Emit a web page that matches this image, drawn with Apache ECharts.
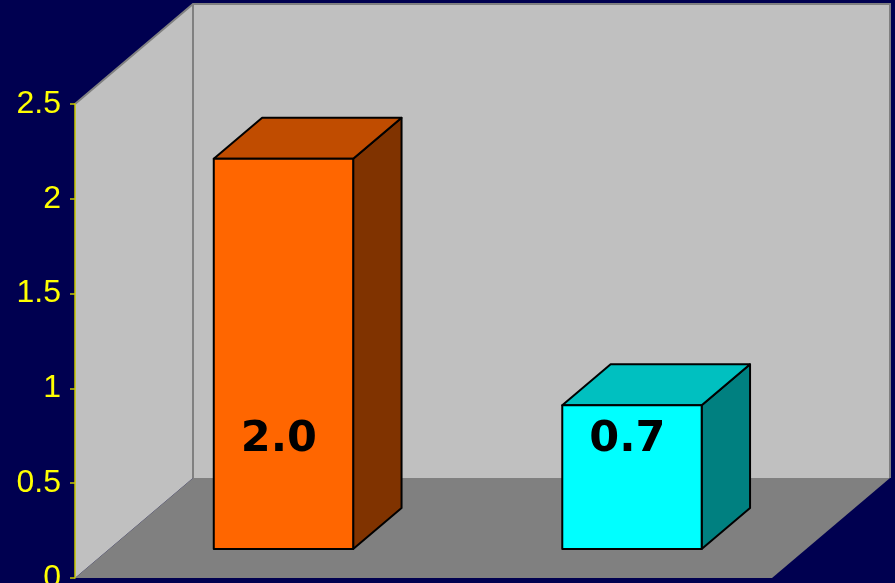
<!DOCTYPE html>
<html>
<head>
<meta charset="utf-8">
<script src="https://cdn.jsdelivr.net/npm/echarts@6/dist/echarts.min.js"></script>
<style>
  html, body { margin: 0; padding: 0; background: #000050; }
  #chart { width: 895px; height: 583px; }
</style>
</head>
<body>
<div id="chart"></div>
<script>
// Data
const categories = ['Group 1', 'Group 2'];
const values = [2.0, 0.7];
const valueLabels = ['2.0', '0.7'];
const axisMin = 0;
const axisMax = 2.5;
const axisStep = 0.5;

// Bar face colours (front, top, side)
const frontColors = ['#FF6600', '#00FFFF'];
const topColors = ['#C04C00', '#00C0C0'];
const sideColors = ['#803300', '#008080'];

// Oblique projection of the 3D box
const DEPTH_X = 118;      // horizontal shift from front plane to back wall
const DEPTH_Y = 100;      // vertical shift from front plane to back wall
const BAR_FRONT = 0.29;   // depth fraction of the bars' front faces
const BAR_DEPTH = 0.41;   // depth fraction taken by each bar
const BAR_LIFT = 11;      // extra rise of bar tops at their depth
const BAR_WIDTH = 0.4;    // bar width as a fraction of the category band

const chart = echarts.init(document.getElementById('chart'), null, { renderer: 'canvas' });

function renderWalls(params, api) {
  const cs = params.coordSys;
  const L = cs.x, T = cs.y, R = cs.x + cs.width, B = cs.y + cs.height;
  const dx = DEPTH_X, dy = DEPTH_Y;
  return {
    type: 'group',
    children: [
      { // back wall
        type: 'polygon',
        shape: { points: [[L + dx, T - dy], [R + dx, T - dy], [R + dx, B - dy], [L + dx, B - dy]] },
        style: { fill: '#C0C0C0' }
      },
      { // side wall
        type: 'polygon',
        shape: { points: [[L, T], [L + dx, T - dy], [L + dx, B - dy], [L, B]] },
        style: { fill: '#C0C0C0' }
      },
      { // floor
        type: 'polygon',
        shape: { points: [[L, B], [L + dx, B - dy], [R + dx, B - dy], [R, B]] },
        style: { fill: '#808080' }
      },
      { // wall edges
        type: 'polyline',
        shape: { points: [[L, T], [L + dx, T - dy], [R + dx, T - dy], [R + dx, B - dy]] },
        style: { stroke: '#808080', lineWidth: 2, fill: null }
      },
      {
        type: 'line',
        shape: { x1: L + dx, y1: T - dy, x2: L + dx, y2: B - dy },
        style: { stroke: '#808080', lineWidth: 2 }
      }
    ]
  };
}

function renderBar(params, api) {
  const i = params.dataIndex;
  const base = api.coord([api.value(0), 0]);
  const top = api.coord([api.value(0), api.value(1)]);
  const band = api.size([1, 0])[0];
  const w = band * BAR_WIDTH;
  const fx = DEPTH_X * BAR_FRONT, fy = DEPTH_Y * BAR_FRONT;
  const bx = DEPTH_X * BAR_DEPTH, by = DEPTH_Y * BAR_DEPTH;
  const x0 = base[0] - w / 2 + fx;
  const x1 = x0 + w;
  const yb = base[1] - fy;
  const yt = top[1] - fy - BAR_LIFT;
  const edge = { stroke: '#000000', lineWidth: 2, lineJoin: 'round' };
  return {
    type: 'group',
    children: [
      {
        type: 'polygon',
        shape: { points: [[x1, yt], [x1 + bx, yt - by], [x1 + bx, yb - by], [x1, yb]] },
        style: Object.assign({ fill: sideColors[i] }, edge)
      },
      {
        type: 'polygon',
        shape: { points: [[x0, yt], [x1, yt], [x1 + bx, yt - by], [x0 + bx, yt - by]] },
        style: Object.assign({ fill: topColors[i] }, edge)
      },
      {
        type: 'rect',
        shape: { x: x0, y: yt, width: w, height: yb - yt },
        style: Object.assign({ fill: frontColors[i] }, edge)
      },
      {
        type: 'text',
        x: x0 + 27,
        y: yb - 109,
        style: {
          text: valueLabels[i],
          fill: '#000000',
          font: 'bold 43px "DejaVu Sans"',
          align: 'left',
          verticalAlign: 'middle'
        }
      }
    ]
  };
}

chart.setOption({
  backgroundColor: '#000050',
  animation: false,
  grid: { left: 75, right: 123, top: 104, bottom: 5, containLabel: false, outerBoundsMode: 'none' },
  xAxis: {
    type: 'category',
    data: categories,
    show: false
  },
  yAxis: {
    type: 'value',
    min: axisMin,
    max: axisMax,
    interval: axisStep,
    z: 10,
    axisLine: { show: true, lineStyle: { color: '#C8C800', width: 1.5 } },
    axisTick: { show: true, inside: false, length: 5, lineStyle: { color: '#C8C800', width: 1.5 } },
    axisLabel: {
      color: '#FFFF00',
      fontSize: 32,
      fontFamily: 'Liberation Sans',
      margin: 14
    },
    splitLine: { show: false }
  },
  series: [
    {
      type: 'custom',
      silent: true,
      z: 1,
      renderItem: renderWalls,
      data: [[0, 0]],
      encode: { x: 0, y: 1 }
    },
    {
      type: 'custom',
      silent: true,
      z: 2,
      renderItem: renderBar,
      data: values.map((v, i) => [i, v]),
      encode: { x: 0, y: 1 }
    }
  ]
});
</script>
</body>
</html>
